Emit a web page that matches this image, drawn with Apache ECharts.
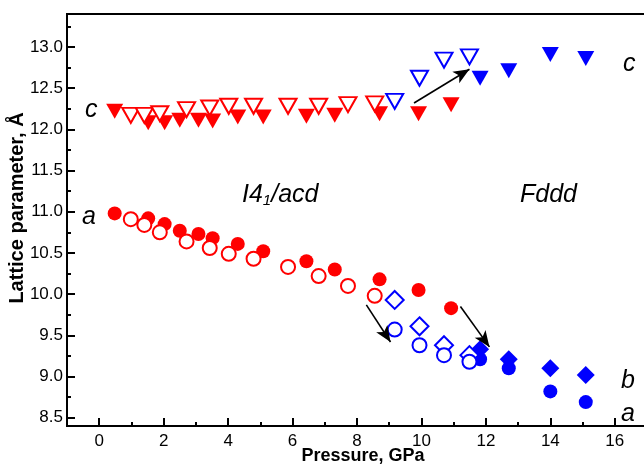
<!DOCTYPE html>
<html>
<head>
<meta charset="utf-8">
<script src="https://cdn.jsdelivr.net/npm/echarts@6/dist/echarts.min.js"></script>
<style>
  html, body { margin: 0; padding: 0; background: #fff; }
  #chart { width: 644px; height: 466px; }
</style>
</head>
<body>
<div id="chart"></div>
<script>
// I4_1/acd phase (red): pressures of filled and open runs
const redFilledP = [0.48, 1.52, 2.03, 2.50, 3.08, 3.52, 4.30, 5.09, 6.43, 7.31, 8.70, 9.91, 10.92];
const redFilledA = [10.98, 10.92, 10.85, 10.77, 10.73, 10.68, 10.61, 10.52, 10.40, 10.30, 10.18, 10.05, 9.83];
const redFilledC = [12.22, 12.08, 12.08, 12.11, 12.11, 12.10, 12.15, 12.15, 12.16, 12.17, 12.19, 12.19, 12.30];

const redOpenP = [0.98, 1.40, 1.88, 2.71, 3.43, 4.02, 4.79, 5.86, 6.81, 7.72, 8.55];
const redOpenA = [10.91, 10.84, 10.75, 10.64, 10.56, 10.49, 10.43, 10.33, 10.22, 10.10, 9.98];
const redOpenC = [12.17, 12.17, 12.19, 12.24, 12.26, 12.28, 12.28, 12.28, 12.28, 12.30, 12.31];

// Fddd phase (blue)
const blueOpenP = [9.17, 9.94, 10.70, 11.49];
const blueOpenA = [9.57, 9.38, 9.26, 9.18];
const blueOpenB = [9.93, 9.61, 9.38, 9.26];
const blueOpenC = [12.34, 12.62, 12.84, 12.88];

const blueFilledP = [11.82, 12.71, 14.00, 15.10];
const blueFilledA = [9.21, 9.10, 8.82, 8.69];
const blueFilledB = [9.33, 9.21, 9.10, 9.02];
const blueFilledC = [12.62, 12.71, 12.91, 12.86];

// Transition arrows: [startP, startValue, endP, endValue]
const arrows = [
  [9.77, 12.32, 11.49, 12.73],
  [8.29, 9.87, 9.04, 9.42],
  [11.21, 9.85, 12.11, 9.36]
];

// Axis ticks
const xMajorTicks = [0, 2, 4, 6, 8, 10, 12, 14, 16];
const xMinorTicks = [1, 3, 5, 7, 9, 11, 13, 15];
const yMajorTicks = [8.5, 9.0, 9.5, 10.0, 10.5, 11.0, 11.5, 12.0, 12.5, 13.0];
const yMinorTicks = [8.75, 9.25, 9.75, 10.25, 10.75, 11.25, 11.75, 12.25, 12.75, 13.25];

const RED = '#ff0000';
const BLUE = '#0000ff';
const FONT = '"Liberation Sans", Arial, sans-serif';

function pts(xs, ys) { return xs.map((x, i) => [x, ys[i]]); }

const CIRCLE = 14;
const TRI = [17, 15];
const DIAM = [18, 18];

function filled(name, data, symbol, size, color, rotate) {
  return {
    name, type: 'scatter', data, symbol, symbolSize: size, symbolRotate: rotate || 0,
    itemStyle: { color: color, opacity: 1 }, z: 3
  };
}
function open(name, data, symbol, size, color, rotate) {
  return {
    name, type: 'scatter', data, symbol, symbolSize: size, symbolRotate: rotate || 0,
    itemStyle: { color: '#ffffff', borderColor: color, borderWidth: 2, opacity: 1 }, z: 4
  };
}

const axisLineStyle = { color: '#000', width: 2 };
const labelFont = 'italic 25px ' + FONT;

const chart = echarts.init(document.getElementById('chart'), null, { renderer: 'canvas' });

chart.setOption({
  animation: false,
  backgroundColor: '#ffffff',
  grid: {
    left: 67, right: -3, top: 14, bottom: 40,
    outerBoundsMode: 'none', containLabel: false,
    show: true, borderColor: '#000', borderWidth: 2, backgroundColor: 'transparent'
  },
  xAxis: [{
    type: 'value', min: -1, max: 17,
    axisLine: { show: true, onZero: false, lineStyle: axisLineStyle },
    axisTick: { show: true, inside: true, length: 8, lineStyle: axisLineStyle, customValues: xMajorTicks },
    axisLabel: { show: true, customValues: xMajorTicks, fontFamily: FONT, fontSize: 17, color: '#000', margin: 7 },
    splitLine: { show: false }
  }, {
    type: 'value', min: -1, max: 17, position: 'bottom',
    axisLine: { show: false, onZero: false },
    axisTick: { show: true, inside: true, length: 4, lineStyle: axisLineStyle, customValues: xMinorTicks },
    axisLabel: { show: false },
    splitLine: { show: false }
  }],
  yAxis: [{
    type: 'value', min: 8.4, max: 13.4,
    axisLine: { show: true, onZero: false, lineStyle: axisLineStyle },
    axisTick: { show: true, inside: true, length: 8, lineStyle: axisLineStyle, customValues: yMajorTicks },
    axisLabel: {
      show: true, customValues: yMajorTicks, fontFamily: FONT, fontSize: 17, color: '#000', margin: 4,
      formatter: v => Number(v).toFixed(1)
    },
    splitLine: { show: false }
  }, {
    type: 'value', min: 8.4, max: 13.4, position: 'left',
    axisLine: { show: false, onZero: false },
    axisTick: { show: true, inside: true, length: 4, lineStyle: axisLineStyle, customValues: yMinorTicks },
    axisLabel: { show: false },
    splitLine: { show: false }
  }],
  series: [
    filled('I41/acd c', pts(redFilledP, redFilledC), 'triangle', TRI, RED, 180),
    open('I41/acd c open', pts(redOpenP, redOpenC), 'triangle', TRI, RED, 180),
    filled('I41/acd a', pts(redFilledP, redFilledA), 'circle', CIRCLE, RED),
    open('I41/acd a open', pts(redOpenP, redOpenA), 'circle', CIRCLE, RED),
    open('Fddd c open', pts(blueOpenP, blueOpenC), 'triangle', TRI, BLUE, 180),
    open('Fddd b open', pts(blueOpenP, blueOpenB), 'diamond', DIAM, BLUE),
    open('Fddd a open', pts(blueOpenP, blueOpenA), 'circle', CIRCLE, BLUE),
    filled('Fddd c', pts(blueFilledP, blueFilledC), 'triangle', TRI, BLUE, 180),
    filled('Fddd a', pts(blueFilledP, blueFilledA), 'circle', CIRCLE, BLUE),
    filled('Fddd b', pts(blueFilledP, blueFilledB), 'diamond', DIAM, BLUE),
    {
      name: 'arrows', type: 'line', data: [], z: 5,
      markLine: {
        silent: true, animation: false,
        symbol: ['none', 'arrow'], symbolSize: [10, 16],
        label: { show: false },
        lineStyle: { color: '#000', width: 1.6, type: 'solid' },
        data: arrows.map(a => [{ coord: [a[0], a[1]] }, { coord: [a[2], a[3]] }])
      }
    }
  ],
  graphic: [
    // axis titles
    {
      type: 'text', x: 363, y: 456,
      style: { text: 'Pressure, GPa', font: 'bold 18px ' + FONT, fill: '#000', align: 'center', verticalAlign: 'middle' }
    },
    {
      type: 'text', x: 17, y: 208, rotation: Math.PI / 2,
      style: { text: 'Lattice parameter, Å', font: 'bold 20px ' + FONT, fill: '#000', align: 'center', verticalAlign: 'middle' }
    },
    // parameter and phase labels
    { type: 'text', left: 85, top: 98, style: { text: 'c', font: labelFont, fill: '#000' } },
    { type: 'text', left: 82, top: 205, style: { text: 'a', font: labelFont, fill: '#000' } },
    {
      type: 'text', left: 242, top: 183,
      style: {
        text: '{m|I4}{s|1}{m|/acd}',
        rich: {
          m: { font: labelFont, fill: '#000' },
          s: { font: 'italic 15px ' + FONT, fill: '#000', verticalAlign: 'bottom', padding: [10, 0, 0, 0] }
        }
      }
    },
    { type: 'text', left: 520, top: 183, style: { text: 'Fddd', font: labelFont, fill: '#000' } },
    { type: 'text', left: 623, top: 52, style: { text: 'c', font: labelFont, fill: '#000' } },
    { type: 'text', left: 621, top: 369, style: { text: 'b', font: labelFont, fill: '#000' } },
    { type: 'text', left: 621, top: 402, style: { text: 'a', font: labelFont, fill: '#000' } }
  ]
});
</script>
</body>
</html>
